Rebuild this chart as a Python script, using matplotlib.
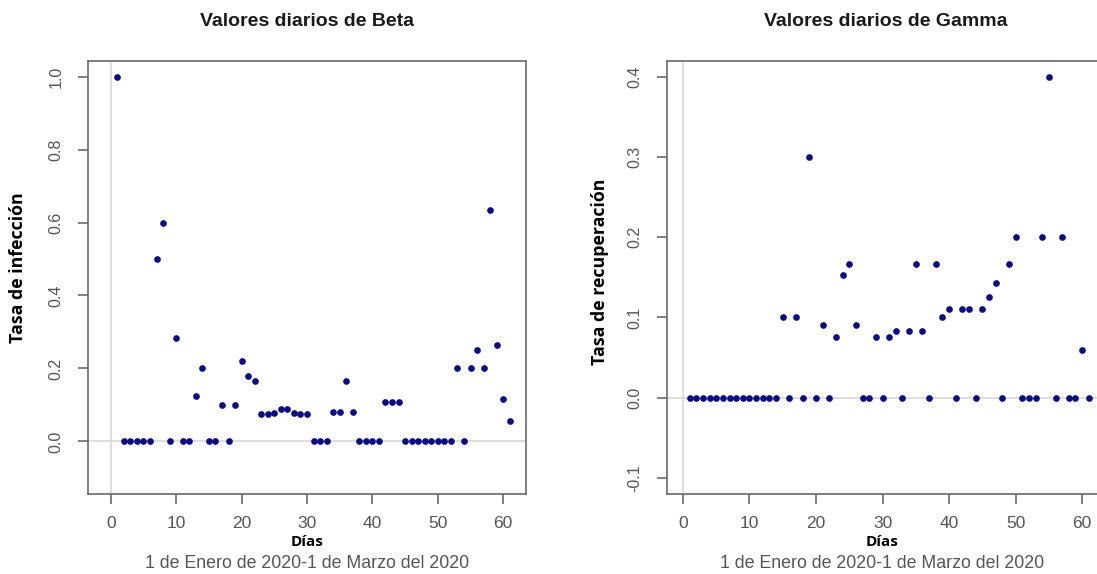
import numpy as np
import matplotlib.pyplot as plt

# Daily values, 1 Jan 2020 - 1 Mar 2020 (days 1..61)
dias = np.arange(1, 62)

beta = [
    1.0, 0, 0, 0, 0, 0, 0.5, 0.6, 0, 0.283,
    0, 0, 0.125, 0.2, 0, 0, 0.1, 0, 0.1, 0.22,
    0.18, 0.167, 0.075, 0.075, 0.079, 0.088, 0.088, 0.079, 0.075, 0.075,
    0, 0, 0, 0.08, 0.08, 0.165, 0.08, 0, 0, 0,
    0, 0.108, 0.108, 0.108, 0, 0, 0, 0, 0, 0,
    0, 0, 0.2, 0, 0.2, 0.25, 0.2, 0.633, 0.264, 0.115,
    0.056,
]

gamma = [
    0, 0, 0, 0, 0, 0, 0, 0, 0, 0,
    0, 0, 0, 0, 0.1, 0, 0.1, 0, 0.3, 0,
    0.091, 0, 0.076, 0.153, 0.167, 0.091, 0, 0, 0.076, 0,
    0.076, 0.083, 0, 0.083, 0.167, 0.083, 0, 0.167, 0.1, 0.111,
    0, 0.111, 0.111, 0, 0.111, 0.125, 0.143, 0, 0.167, 0.2,
    0, 0, 0, 0.2, 0.4, 0, 0.2, 0, 0, 0.059,
    0,
]

titulos = ["Valores diarios de Beta", "Valores diarios de Gamma"]
ylabels = ["Tasa de infección", "Tasa de recuperación"]
yticks = [[0.0, 0.2, 0.4, 0.6, 0.8, 1.0], [-0.1, 0.0, 0.1, 0.2, 0.3, 0.4]]
ylims = [(-0.1, 1.0), (-0.1, 0.4)]
xlims = [(-1, 61), (0, 61)]
xticks = [0, 10, 20, 30, 40, 50, 60]

W, H = 1097, 574
fig = plt.figure(figsize=(W / 100, H / 100), dpi=100)

frame = "#6a6a6a"
txt_gray = "#555555"
punto = "#0c0c80"


def expand(lim, f=0.04):
    d = (lim[1] - lim[0]) * f
    return lim[0] - d, lim[1] + d


# axes rectangles in pixels (left, top, right, bottom)
rects = [(88, 60.5, 526, 494), (666.7, 60.5, 1105, 494)]
ylab_pos = [(18, 267.5), (600, 272)]

for i, serie in enumerate([beta, gamma]):
    l, t, r, b = rects[i]
    ax = fig.add_axes([l / W, 1 - b / H, (r - l) / W, (b - t) / H])
    ax.axhline(0, color="#d4d4d4", lw=1.1, zorder=1)
    ax.axvline(0, color="#d4d4d4", lw=1.1, zorder=1)
    ax.plot(dias, serie, "o", color=punto, ms=3.8, mec=punto, zorder=3)

    xl = expand(xlims[i])
    ax.set_xlim(*xl)
    ax.set_ylim(*expand(ylims[i]))
    ax.set_xticks(xticks)
    ax.set_yticks(yticks[i])
    ax.set_yticklabels([f"{v:.1f}" for v in yticks[i]], rotation=90, va="center")
    for s in ax.spines.values():
        s.set_color(frame)
        s.set_linewidth(1.2)
    ax.tick_params(colors=frame, labelcolor=txt_gray, length=7.5, width=1.2,
                   pad=10)
    ax.tick_params(axis="x", labelsize=12.5, pad=8)
    ax.tick_params(axis="y", labelsize=11.5)
    for lab in ax.get_xticklabels() + ax.get_yticklabels():
        lab.set_family("Liberation Sans")

    cx = (l + r) / 2 / W
    fig.text(cx, 1 - 21 / H, titulos[i], ha="center", va="center",
             fontsize=14, fontweight="bold", family="Liberation Sans",
             color="#1a1a1a")
    xc = (l + (r - l) * (30 - xl[0]) / (xl[1] - xl[0])) / W
    fig.text(xc, 1 - 542 / H, "Días", ha="center", va="center",
             fontsize=11, fontweight="bold", family="Open Sans", color="black")
    fig.text(xc, 1 - 564 / H, "1 de Enero de 2020-1 de Marzo del 2020",
             ha="center", va="center", fontsize=12.8, family="Liberation Sans",
             color=txt_gray)
    px, py = ylab_pos[i]
    fig.text(px / W, 1 - py / H, ylabels[i], rotation=90,
             ha="center", va="center", fontsize=12.8, fontweight="bold",
             family="Open Sans", color="black")

fig.savefig("out.png", dpi=100)
